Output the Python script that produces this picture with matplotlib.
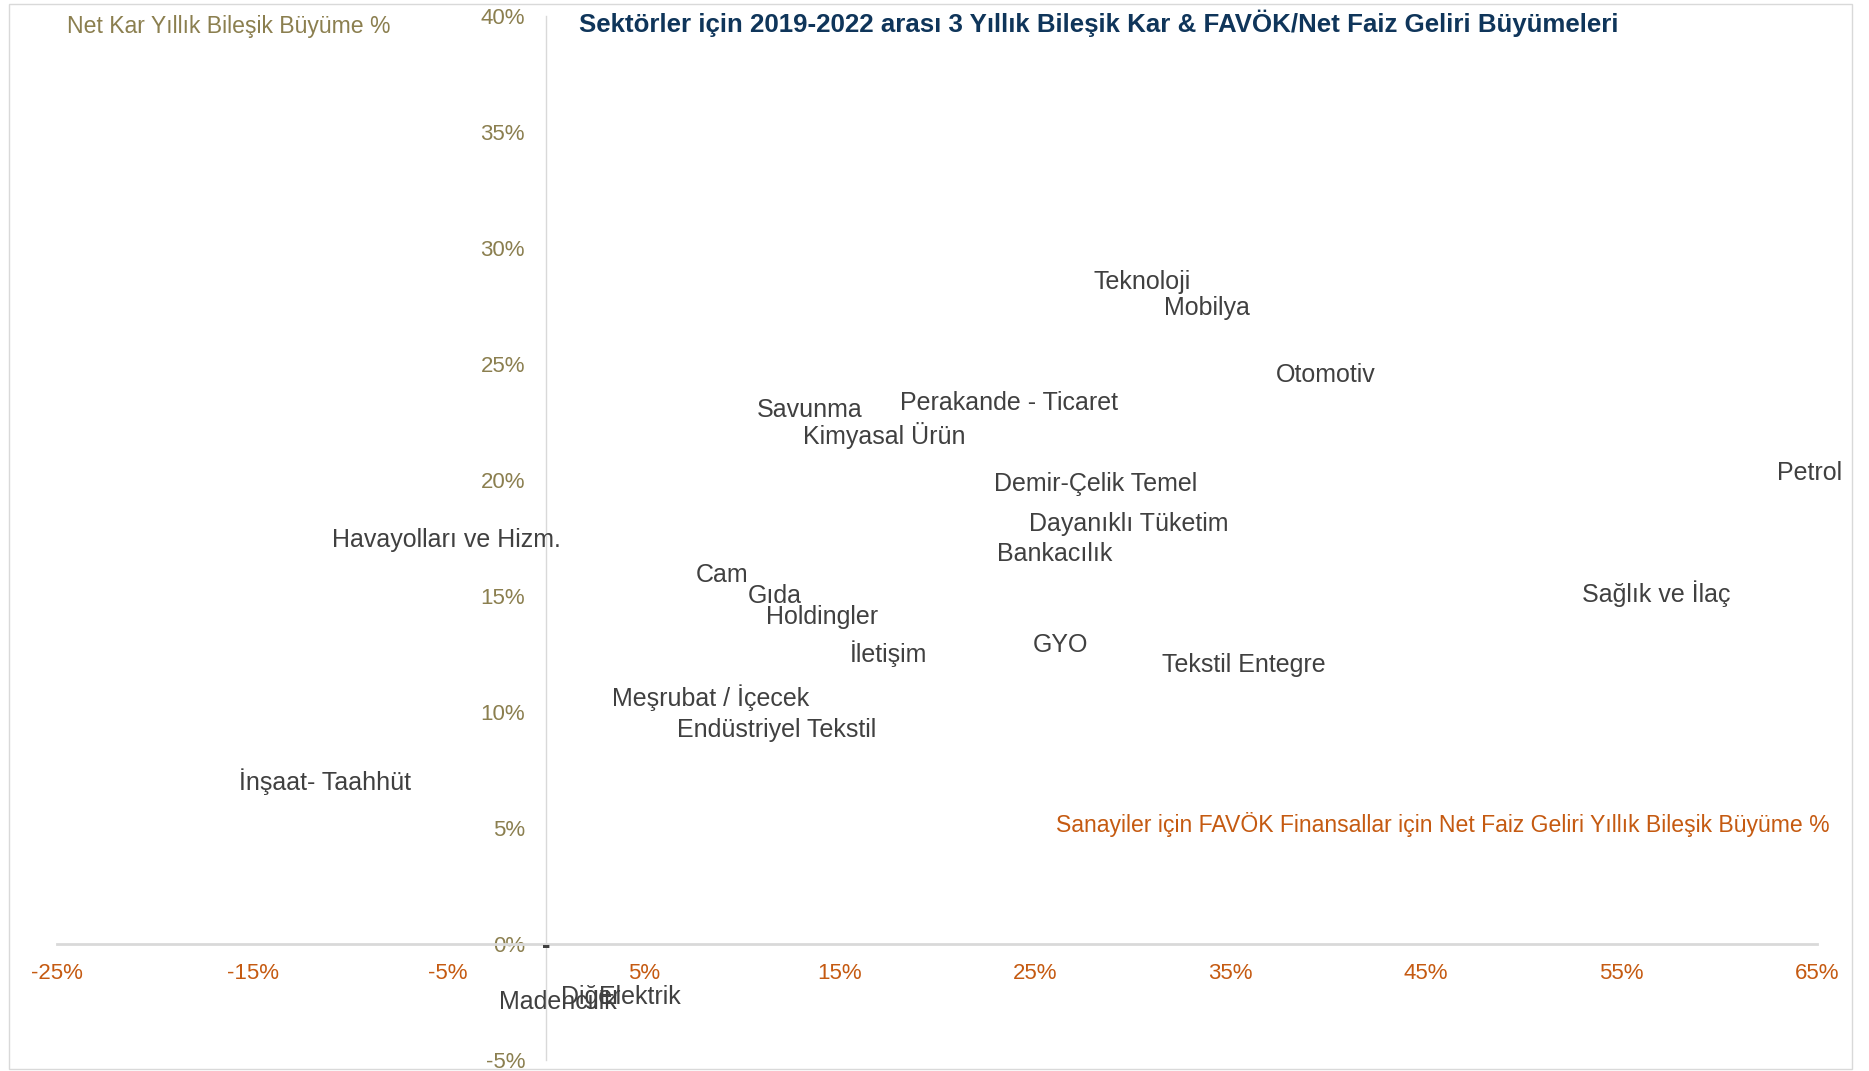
import matplotlib
matplotlib.use("Agg")
import matplotlib.pyplot as plt
from matplotlib.ticker import FuncFormatter
from matplotlib.patches import Rectangle

plt.rcParams['font.family'] = ['Liberation Sans', 'DejaVu Sans']

# sector names and their growth values (% CAGR 2019-2022)
sectors = ["Teknoloji", "Mobilya", "Otomotiv", "Perakande - Ticaret", "Savunma",
           "Kimyasal Ürün", "Petrol", "Demir-Çelik Temel", "Dayanıklı Tüketim",
           "Havayolları ve Hizm.", "Bankacılık", "Cam", "Gıda", "Sağlık ve İlaç",
           "Holdingler", "GYO", "İletişim", "Tekstil Entegre", "Meşrubat / İçecek",
           "Endüstriyel Tekstil", "İnşaat- Taahhüt", "Madencilik", "Diğer", "Elektrik"]
favok_growth = [30.5, 33.8, 39.9, 23.7, 13.5, 17.3, 64.6, 28.1, 29.8, -5.1, 26.0, 9.0,
                11.7, 56.8, 14.1, 26.3, 17.5, 35.7, 8.4, 11.8, -11.3, 0.6, 2.3, 4.8]
netkar_growth = [28.5, 27.4, 24.5, 23.3, 23.0, 21.9, 20.3, 19.8, 18.1, 17.4, 16.8, 15.9,
                 15.0, 15.1, 14.1, 12.9, 12.5, 12.0, 10.6, 9.2, 7.0, -2.5, -2.3, -2.3]

x_ticks = [-25, -15, -5, 5, 15, 25, 35, 45, 55, 65]
y_ticks = [-5, 0, 5, 10, 15, 20, 25, 30, 35, 40]

olive = '#8B7F4F'
orange = '#C55A11'
navy = '#0F355A'
grey_text = '#404040'
line_grey = '#D9D9D9'

fig = plt.figure(figsize=(18.69, 10.71), dpi=100)
ax = fig.add_axes([0.0305, 0.0103, 0.9417, 0.9752])
ax.set_xlim(-25, 65)
ax.set_ylim(-5, 40)

for s in ['top', 'right']:
    ax.spines[s].set_visible(False)
ax.spines['left'].set_position(('data', 0))
ax.spines['bottom'].set_position(('data', 0))
ax.spines['left'].set_color(line_grey)
ax.spines['bottom'].set_color(line_grey)
ax.spines['bottom'].set_linewidth(2)
ax.spines['left'].set_linewidth(1)

ax.set_xticks(x_ticks)
ax.set_yticks(y_ticks)
ax.xaxis.set_major_formatter(FuncFormatter(lambda v, p: f"{v:.0f}%"))
ax.yaxis.set_major_formatter(FuncFormatter(lambda v, p: f"{v:.0f}%"))
ax.tick_params(axis='x', length=0, pad=14, labelsize=16, labelcolor=orange)
ax.tick_params(axis='y', length=0, pad=15, labelsize=16, labelcolor=olive)

for name, xv, yv in zip(sectors, favok_growth, netkar_growth):
    ax.text(xv, yv, name, ha='center', va='center', fontsize=18, color=grey_text)

# small dash at origin
ax.text(0, -0.1, "-", ha='center', va='center', fontsize=18, color=grey_text,
        fontweight='bold')

fig.text(0.3098, 0.9778, "Sektörler için 2019-2022 arası 3 Yıllık Bileşik Kar & FAVÖK/Net Faiz Geliri Büyümeleri",
         ha='left', va='center', fontsize=18.6, fontweight='bold', color=navy)
fig.text(0.0358, 0.9757, "Net Kar Yıllık Bileşik Büyüme %", ha='left', va='center',
         fontsize=16.6, color=olive)
fig.text(0.979, 0.2306, "Sanayiler için FAVÖK Finansallar için Net Faiz Geliri Yıllık Bileşik Büyüme %",
         ha='right', va='center', fontsize=16.6, color=orange)

fig.patches.append(Rectangle((0.005, 0.002), 0.986, 0.9946, transform=fig.transFigure,
                             fill=False, edgecolor=line_grey, linewidth=1))

fig.savefig("out.png", dpi=100)
